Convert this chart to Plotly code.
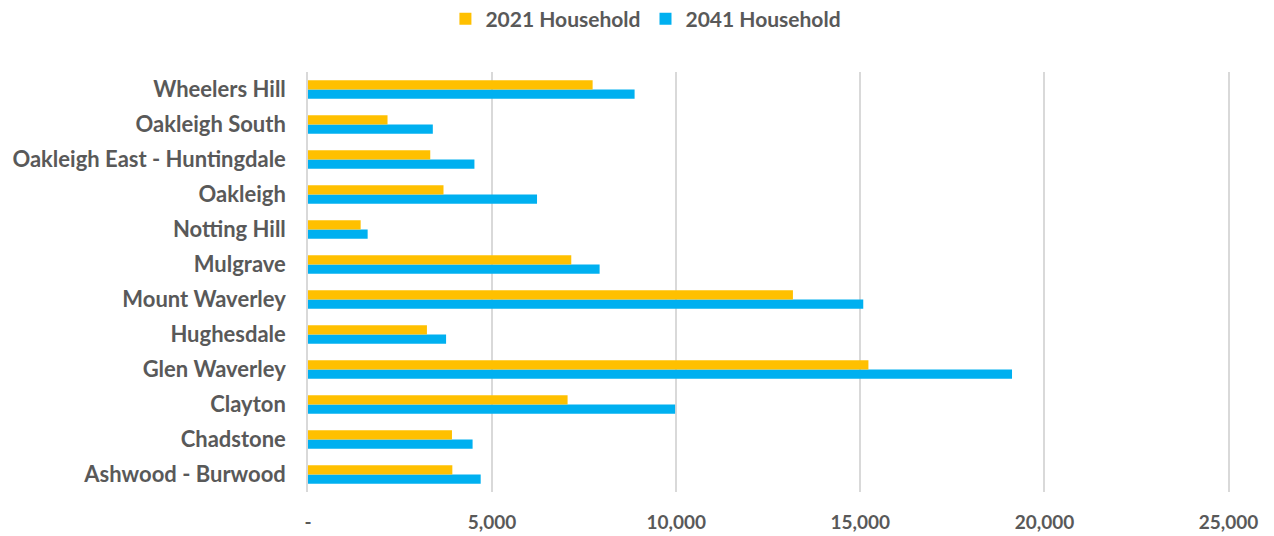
import plotly.graph_objects as go

# Suburbs, listed bottom to top as drawn on the category axis
suburbs = [
    "Ashwood - Burwood", "Chadstone", "Clayton", "Glen Waverley", "Hughesdale",
    "Mount Waverley", "Mulgrave", "Notting Hill", "Oakleigh",
    "Oakleigh East - Huntingdale", "Oakleigh South", "Wheelers Hill",
]
households_2021 = [3920, 3910, 7050, 15220, 3230, 13170, 7150, 1430, 3680, 3320, 2160, 7730]
households_2041 = [4690, 4470, 9970, 19120, 3750, 15080, 7920, 1620, 6220, 4520, 3390, 8870]

x_tickvals = [0, 5000, 10000, 15000, 20000, 25000]
x_ticktext = ["-", "5,000", "10,000", "15,000", "20,000", "25,000"]

YELLOW = "#FFC000"
BLUE = "#00B0F0"
TEXT = "#595959"
GRID = "#D9D9D9"
FONT = "Lato"

fig = go.Figure()
# 2041 added first so that the 2021 bar sits above it within each group
fig.add_trace(go.Bar(
    y=suburbs, x=households_2041, orientation="h", name="2041 Household",
    marker=dict(color=BLUE, line=dict(width=0)), legendrank=2,
))
fig.add_trace(go.Bar(
    y=suburbs, x=households_2021, orientation="h", name="2021 Household",
    marker=dict(color=YELLOW, line=dict(width=0)), legendrank=1,
))

fig.update_layout(
    width=1274, height=536,
    margin=dict(l=308, r=44, t=72, b=44),
    paper_bgcolor="white", plot_bgcolor="white",
    barmode="group", bargap=0.47, bargroupgap=0,
    font=dict(family=FONT, color=TEXT, size=20),
    legend=dict(
        orientation="h", xref="container", yref="container",
        x=0.507, xanchor="center", y=1 - 19 / 536, yanchor="middle",
        font=dict(family=FONT, size=21, color=TEXT, weight="bold"),
        itemwidth=30, traceorder="normal",
    ),
    xaxis=dict(
        range=[0, 25040], tickvals=x_tickvals, ticktext=x_ticktext,
        showgrid=True, gridcolor=GRID, gridwidth=1.5,
        zeroline=False, showline=False, ticks="",
        tickfont=dict(family=FONT, size=19, color=TEXT, weight="bold"),
        ticklabelstandoff=17, automargin=False, fixedrange=True,
    ),
    yaxis=dict(
        type="category", categoryorder="array", categoryarray=suburbs,
        showgrid=False, zeroline=False,
        showline=True, linecolor=GRID, linewidth=1.5, ticks="",
        tickfont=dict(family=FONT, size=22, color=TEXT, weight="bold"),
        ticklabelstandoff=16, automargin=False, fixedrange=True,
    ),
)

fig.write_html("out.html")
